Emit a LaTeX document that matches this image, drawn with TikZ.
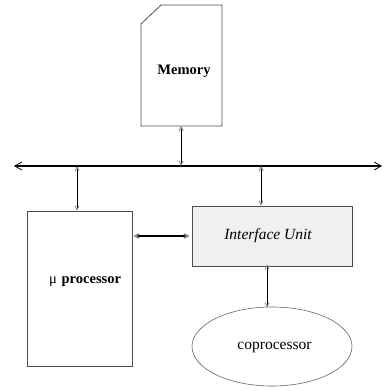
\documentclass[tikz,border=0pt]{standalone}
\usepackage{fontspec}
\setmainfont{Liberation Serif}
\usetikzlibrary{arrows.meta,shapes.geometric}
\begin{document}
\begin{tikzpicture}[x=1pt,y=-1pt,
  every node/.style={font=\fontsize{15.5}{18}\selectfont},
  boxline/.style={draw=black!70,line width=0.8pt},
  link/.style={line width=0.8pt,{Straight Barb[length=4pt,width=4pt,color=black!50]}-{Straight Barb[length=4pt,width=4pt,color=black!50]}},
  buslink/.style={line width=1.4pt,{Straight Barb[length=7pt,width=8pt,line width=0.8pt]}-{Straight Barb[length=7pt,width=8pt,line width=0.8pt]}}]
\useasboundingbox (0,0) rectangle (383,391);
% memory
\draw[boxline] (161,5) -- (222,5) -- (222,126) -- (141,126) -- (141,24) -- cycle;
\node[font=\fontsize{14.5}{17}\selectfont\bfseries] (mem) at (184,71) {Memory};
\coordinate (memb) at (181,126);
% bus
\coordinate (busl) at (14,166);
\coordinate (busr) at (382,166);
\draw[buslink] (busl) -- (busr);
\coordinate (bus1) at (181,166);
\coordinate (bus2) at (77,166);
\coordinate (bus3) at (261,166);
% processor
\node[boxline,minimum width=105pt,minimum height=155pt,inner sep=0pt] (proc) at (79.5,288.5) {};
\node[font=\fontsize{14.5}{17}\selectfont] (ptext) at (85,282) {μ\,\,\textbf{processor}};
% interface unit
\node[boxline,fill=black!6,minimum width=160pt,minimum height=60pt,inner sep=0pt] (iu) at (272,236) {};
\node[font=\fontsize{15.5}{18}\selectfont\itshape] (iutext) at (268,236) {Interface Unit};
% coprocessor
\node[draw=black!60,line width=0.6pt,ellipse,minimum width=160pt,minimum height=79pt,inner sep=0pt] (cop) at (272,346.5) {};
\node (coptext) at (274.5,347) {coprocessor};
% connectors
\draw[link] (memb) -- (bus1);
\draw[link] (bus2) -- (proc.north -| bus2);
\draw[link] (bus3) -- (iu.north -| bus3);
\draw[link,line width=1.6pt] ([xshift=1pt]proc.east |- 0,236) -- ([xshift=-2pt]iu.west);
\draw[link] ([yshift=2pt]iu.south -| 267,0) -- ([yshift=-1pt]cop.north -| 267,0);
\end{tikzpicture}
\end{document}
